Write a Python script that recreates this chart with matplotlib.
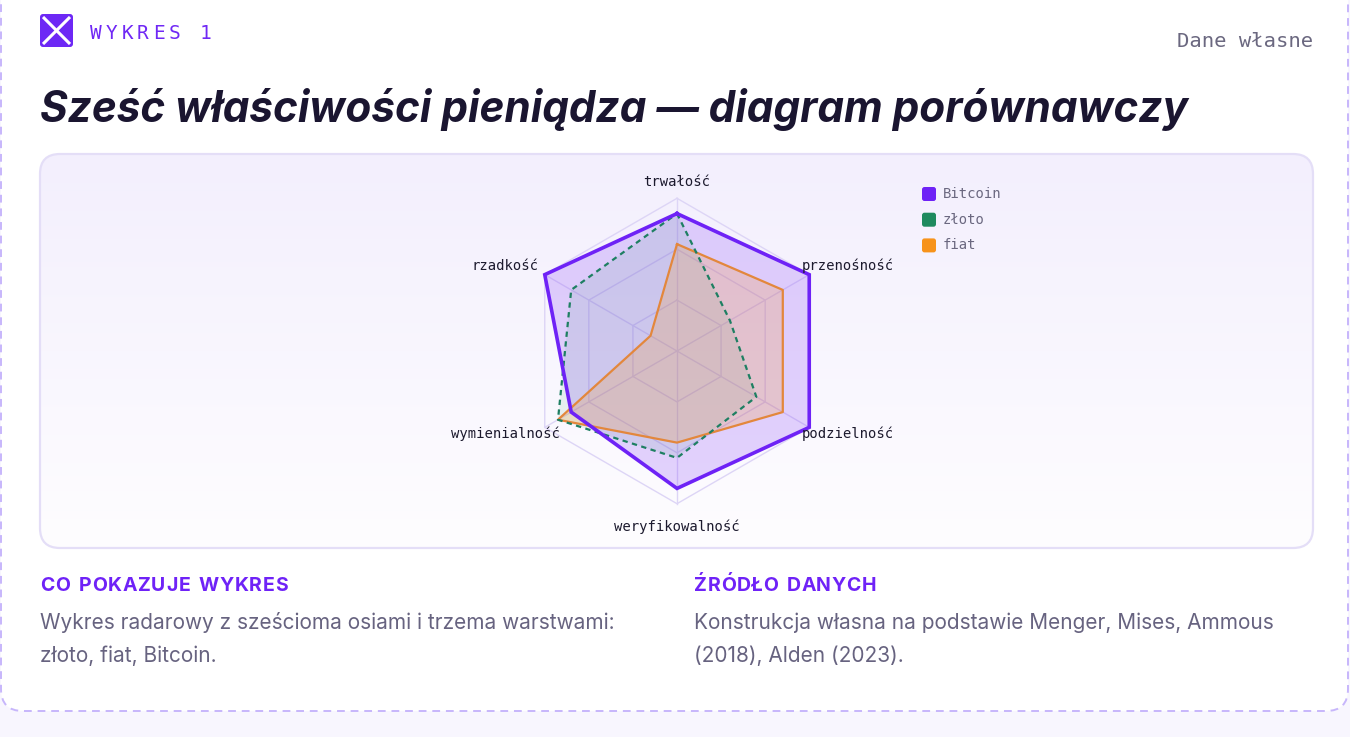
import matplotlib
matplotlib.use("Agg")
import matplotlib.pyplot as plt
import numpy as np
from matplotlib.patches import FancyBboxPatch
from matplotlib.colors import LinearSegmentedColormap

# data (scale 0-10)
axes_names = ["trwałość", "przenośność", "podzielność", "weryfikowalność", "wymienialność", "rzadkość"]
bitcoin = [9, 10, 10, 9, 8, 10]
zloto = [9, 4, 6, 7, 9, 8]
fiat = [7, 8, 8, 6, 9, 2]
series_names = ["Bitcoin", "złoto", "fiat"]
ring_levels = [10 / 3, 20 / 3, 10]

title = "Sześć właściwości pieniądza — diagram porównawczy"
kicker = "WYKRES 1"
note = "Dane własne"
left_head = "CO POKAZUJE WYKRES"
left_body = ["Wykres radarowy z sześcioma osiami i trzema warstwami:", "złoto, fiat, Bitcoin."]
right_head = "ŹRÓDŁO DANYCH"
right_body = ["Konstrukcja własna na podstawie Menger, Mises, Ammous", "(2018), Alden (2023)."]

PURPLE = "#6E22F6"
GREEN = "#1E8A5E"
ORANGE = "#F7931A"
MONO = "DejaVu Sans Mono"
SANS = "Inter"

W, H = 1350, 737
fig = plt.figure(figsize=(13.5, 7.37), dpi=100, facecolor="#F8F6FE")
bg = fig.add_axes([0, 0, 1, 1])
bg.axis("off")

card = FancyBboxPatch((1, -40), 1347, 751, boxstyle="round,pad=0,rounding_size=22",
                      fc="white", ec="#C7B6FB", lw=1.4, ls=(0, (4, 3)), zorder=1)
bg.add_patch(card)

panel = FancyBboxPatch((40, 154), 1273, 394, boxstyle="round,pad=0,rounding_size=20",
                       fc="none", ec="#E4DEF7", lw=1.6, zorder=3)
bg.add_patch(panel)
grad = np.linspace(0, 1, 256).reshape(-1, 1)
cmap = LinearSegmentedColormap.from_list("panel", ["#F3EFFD", "#FEFDFF"])
im = bg.imshow(grad, extent=[40, 1313, 548, 154], cmap=cmap, aspect="auto", zorder=2)
im.set_clip_path(panel)
bg.set_xlim(0, W)
bg.set_ylim(H, 0)

renderer = fig.canvas.get_renderer()


def fit_width(t, w):
    bb = t.get_window_extent(renderer)
    t.set_fontsize(t.get_fontsize() * w / bb.width)


def spaced(x, y, s, width, **kw):
    # letter-spaced text: one text per char, spread over the given width
    parts = [bg.text(x, y, ch, va="baseline", ha="left", zorder=5, **kw) for ch in s]
    widths = [p.get_window_extent(renderer).width if ch != " " else 0 for p, ch in zip(parts, s)]
    space_w = bg.text(0, 0, "n", **kw)
    sw = space_w.get_window_extent(renderer).width * 0.55
    space_w.remove()
    widths = [w if ch != " " else sw for w, ch in zip(widths, s)]
    gap = (width - sum(widths)) / (len(s) - 1)
    cur = x
    for p, w in zip(parts, widths):
        p.set_x(cur)
        cur += w + gap


# header
logo = FancyBboxPatch((40, 14), 33, 33, boxstyle="round,pad=0,rounding_size=3", fc="#6D28F5", ec="none", zorder=4)
bg.add_patch(logo)
bg.plot([43, 70], [17, 44], color="white", lw=2.2, zorder=5, solid_capstyle="butt")
bg.plot([43, 70], [44, 17], color="white", lw=2.2, zorder=5, solid_capstyle="butt")
for i, ch in enumerate(kicker):
    bg.text(90 + i * 15.7, 39.3, ch, fontsize=14, family=MONO, color="#7028F5",
            va="baseline", ha="left", zorder=5)

t = bg.text(1313, 47, note, fontsize=14, family=MONO, color="#6B6880", ha="right", va="baseline", zorder=5)
fit_width(t, 136)

t = bg.text(40, 121.5, title, fontsize=32, family=SANS, weight="bold", style="italic",
            color="#1A1530", ha="left", va="baseline", zorder=5)
fit_width(t, 1148)

# footer text
spaced(40, 591, left_head, 248, fontsize=14, family=SANS, weight="bold", color="#6F22F7")
spaced(694, 591, right_head, 182, fontsize=14, family=SANS, weight="bold", color="#6F22F7")
t = bg.text(40, 629.3, left_body[0], fontsize=15, family=SANS, color="#676380", va="baseline", zorder=5)
fit_width(t, 575)
fs = t.get_fontsize()
bg.text(40, 661.7, left_body[1], fontsize=fs, family=SANS, color="#676380", va="baseline", zorder=5)
bg.text(694, 629.3, right_body[0], fontsize=fs, family=SANS, color="#676380", va="baseline", zorder=5)
bg.text(694, 661.7, right_body[1], fontsize=fs, family=SANS, color="#676380", va="baseline", zorder=5)

# legend
for i, (name, col) in enumerate(zip(series_names, [PURPLE, GREEN, ORANGE])):
    y = 194 + i * 25.7
    bg.add_patch(FancyBboxPatch((922, y - 7), 14, 14, boxstyle="round,pad=0,rounding_size=2.5",
                                fc=col, ec="none", zorder=5))
    bg.text(943, y, name, fontsize=10, family=MONO, color="#6B6880", va="center", ha="left", zorder=5)

# radar
cx, cy, R = 677, 351, 152.7
ax = fig.add_axes([(cx - R) / W, (H - cy - R) / H, 2 * R / W, 2 * R / H], projection="polar")
ax.set_theta_zero_location("N")
ax.set_theta_direction(-1)
ax.set_ylim(0, 10)
ax.set_xticks([])
ax.set_yticks([])
ax.grid(False)
ax.spines["polar"].set_visible(False)
ax.patch.set_visible(False)

theta = np.linspace(0, 2 * np.pi, len(axes_names), endpoint=False)
tc = np.append(theta, theta[0])


def closed(v):
    return np.append(v, v[0])


for lvl in ring_levels:
    ax.plot(tc, [lvl] * len(tc), color="#DDD5F6", lw=1, zorder=1, clip_on=False)
for th in theta:
    ax.plot([th, th], [0, 10], color="#DDD5F6", lw=1, zorder=1, clip_on=False)

ax.fill(tc, closed(bitcoin), color="#7B2FF7", alpha=0.2, lw=0, zorder=2)
ax.fill(tc, closed(zloto), color=GREEN, alpha=0.09, lw=0, zorder=2)
ax.fill(tc, closed(fiat), color=ORANGE, alpha=0.2, lw=0, zorder=2)

ax.plot(tc, closed(fiat), color="#E3873C", lw=1.6, zorder=3, clip_on=False)
ax.plot(tc, closed(zloto), color="#1E7F62", lw=1.6, ls=(0, (2.4, 2)), zorder=4, clip_on=False)
ax.plot(tc, closed(bitcoin), color=PURPLE, lw=2.6, zorder=5, clip_on=False, solid_joinstyle="miter")

offsets = [(0, 16, "center"), (-7, 9, "left"), (-7, -6, "left"),
           (0, -23, "center"), (15, -6, "right"), (-6, 9, "right")]
for th, name, (dx, dy, ha) in zip(theta, axes_names, offsets):
    ax.annotate(name, xy=(th, 10), xytext=(dx, dy), textcoords="offset pixels",
                ha=ha, va="center", fontsize=10, family=MONO, color="#1C1A2E",
                annotation_clip=False, zorder=6)

fig.savefig("out.png", dpi=100, facecolor=fig.get_facecolor())
